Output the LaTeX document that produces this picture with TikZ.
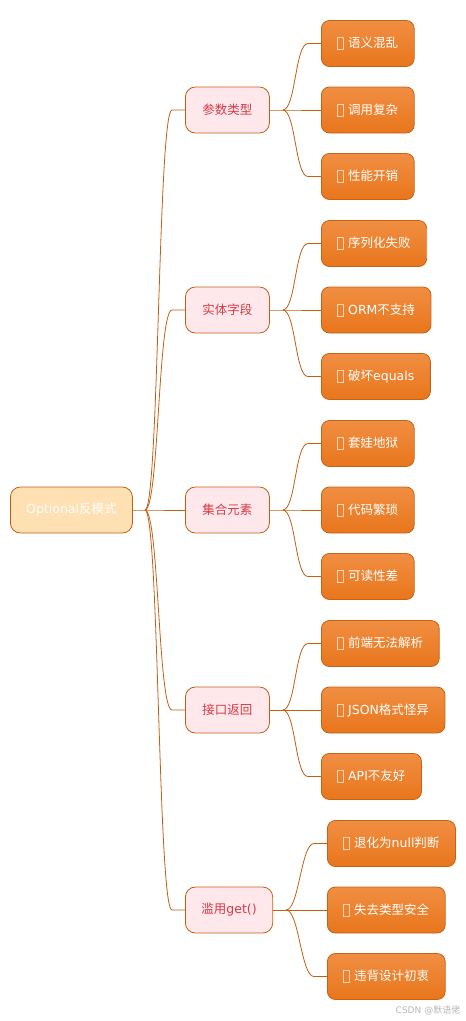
\documentclass[tikz,border=0pt]{standalone}
\usepackage{fontspec}
\setmainfont{DejaVu Sans}
\newfontfamily\cjk{Noto Sans CJK SC}
\usepackage{tikz}
\usetikzlibrary{positioning}
\usepackage{xcolor}

\definecolor{edgeorange}{RGB}{192,96,20}
\definecolor{rootfill}{RGB}{255,224,178}
\definecolor{topicfill}{RGB}{255,232,236}
\definecolor{topictext}{RGB}{214,58,68}
\definecolor{leaftop}{RGB}{241,142,66}
\definecolor{leafbot}{RGB}{232,118,28}
\definecolor{leafborder}{RGB}{196,98,22}
\definecolor{tofucol}{RGB}{252,214,180}

% missing-glyph box as printed in the leaves
\newcommand{\tofu}{\textcolor{tofucol}{\raisebox{-1.5pt}{\fboxsep=0pt\fboxrule=0.9pt\fbox{\rule{0pt}{11pt}\hspace{5pt}}}}\ }

\begin{document}
\begin{tikzpicture}[
    x=1pt, y=-1pt,
    font=\fontsize{12.5}{14}\selectfont,
    rootnode/.style={draw=edgeorange, fill=rootfill, rounded corners=10pt, minimum width=122pt, minimum height=46pt, text=white, anchor=west, line width=0.8pt},
    topicnode/.style={draw=edgeorange, fill=topicfill, rounded corners=10pt, minimum width=84pt, minimum height=46pt, inner xsep=16pt, text=topictext, anchor=west, line width=0.8pt},
    leafnode/.style={draw=leafborder, top color=leaftop, bottom color=leafbot, rounded corners=8pt, minimum height=46pt, inner xsep=16pt, text=white, anchor=west, line width=0.8pt},
    branch/.style={draw=edgeorange, line width=0.8pt},
]
\useasboundingbox (0,0) rectangle (466,1021);

% === Root ===
\node[rootnode] (opt) at (10,510) {Optional{\cjk 反模式}};

% === Topics ===
\node[topicnode] (t1) at (185,110) {{\cjk 参数类型}};
\node[topicnode] (t2) at (185,310) {{\cjk 实体字段}};
\node[topicnode] (t3) at (185,510) {{\cjk 集合元素}};
\node[topicnode] (t4) at (185,710) {{\cjk 接口返回}};
\node[topicnode] (t5) at (185,910) {{\cjk 滥用}get()};

% === Leaves ===
% 参数类型
\node[leafnode] (l1a) at (321,43.5) {\tofu{\cjk 语义混乱}};
\node[leafnode] (l1b) at (321,110) {\tofu{\cjk 调用复杂}};
\node[leafnode] (l1c) at (321,176.5) {\tofu{\cjk 性能开销}};
% 实体字段
\node[leafnode] (l2a) at (321,243.5) {\tofu{\cjk 序列化失败}};
\node[leafnode] (l2b) at (321,310) {\tofu ORM{\cjk 不支持}};
\node[leafnode] (l2c) at (321,376.5) {\tofu{\cjk 破坏}equals};
% 集合元素
\node[leafnode] (l3a) at (321,443.5) {\tofu{\cjk 套娃地狱}};
\node[leafnode] (l3b) at (321,510) {\tofu{\cjk 代码繁琐}};
\node[leafnode] (l3c) at (321,576.5) {\tofu{\cjk 可读性差}};
% 接口返回
\node[leafnode] (l4a) at (321,643.5) {\tofu{\cjk 前端无法解析}};
\node[leafnode] (l4b) at (321,710) {\tofu JSON{\cjk 格式怪异}};
\node[leafnode] (l4c) at (321,776.5) {\tofu API{\cjk 不友好}};
% 滥用get()
\node[leafnode] (l5a) at (327,843.5) {\tofu{\cjk 退化为}null{\cjk 判断}};
\node[leafnode] (l5b) at (327,910) {\tofu{\cjk 失去类型安全}};
\node[leafnode] (l5c) at (327,976.5) {\tofu{\cjk 违背设计初衷}};

% === Root -> topics ===
\coordinate (j0) at (145,510);
\draw[branch] (opt) -- (j0) -- (t3);
\draw[branch] (j0) .. controls +(14,0) and +(-14,0) .. ([xshift=-13pt]t1.west) -- (t1);
\draw[branch] (j0) .. controls +(14,0) and +(-14,0) .. ([xshift=-13pt]t2.west) -- (t2);
\draw[branch] (j0) .. controls +(14,0) and +(-14,0) .. ([xshift=-13pt]t4.west) -- (t4);
\draw[branch] (j0) .. controls +(14,0) and +(-14,0) .. ([xshift=-13pt]t5.west) -- (t5);

% === Topics -> leaves ===
\coordinate (j1) at ([xshift=13pt]t1.east);
\draw[branch] (t1) -- (j1) -- (l1b);
\draw[branch] (j1) .. controls +(13,0) and +(-13,0) .. ([xshift=-13pt]l1a.west) -- (l1a);
\draw[branch] (j1) .. controls +(13,0) and +(-13,0) .. ([xshift=-13pt]l1c.west) -- (l1c);

\coordinate (j2) at ([xshift=13pt]t2.east);
\draw[branch] (t2) -- (j2) -- (l2b);
\draw[branch] (j2) .. controls +(13,0) and +(-13,0) .. ([xshift=-13pt]l2a.west) -- (l2a);
\draw[branch] (j2) .. controls +(13,0) and +(-13,0) .. ([xshift=-13pt]l2c.west) -- (l2c);

\coordinate (j3) at ([xshift=13pt]t3.east);
\draw[branch] (t3) -- (j3) -- (l3b);
\draw[branch] (j3) .. controls +(13,0) and +(-13,0) .. ([xshift=-13pt]l3a.west) -- (l3a);
\draw[branch] (j3) .. controls +(13,0) and +(-13,0) .. ([xshift=-13pt]l3c.west) -- (l3c);

\coordinate (j4) at ([xshift=13pt]t4.east);
\draw[branch] (t4) -- (j4) -- (l4b);
\draw[branch] (j4) .. controls +(13,0) and +(-13,0) .. ([xshift=-13pt]l4a.west) -- (l4a);
\draw[branch] (j4) .. controls +(13,0) and +(-13,0) .. ([xshift=-13pt]l4c.west) -- (l4c);

\coordinate (j5) at ([xshift=13pt]t5.east);
\draw[branch] (t5) -- (j5) -- (l5b);
\draw[branch] (j5) .. controls +(13,0) and +(-13,0) .. ([xshift=-13pt]l5a.west) -- (l5a);
\draw[branch] (j5) .. controls +(13,0) and +(-13,0) .. ([xshift=-13pt]l5c.west) -- (l5c);

% === Watermark ===
\node[text=black!28, font=\fontsize{9}{10}\selectfont] (mark) at (428,1010) {CSDN @{\cjk 默语佬}};

\end{tikzpicture}
\end{document}
